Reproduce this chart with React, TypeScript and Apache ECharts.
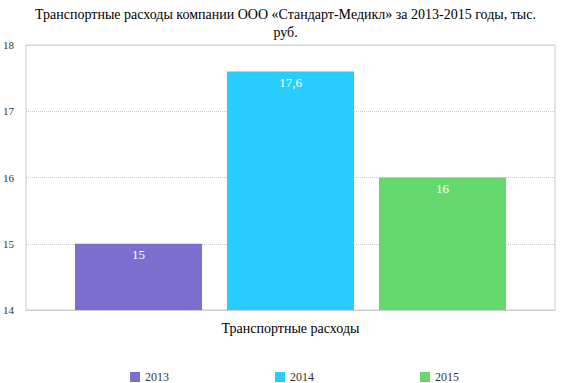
import React, { useEffect, useRef } from "react";
import * as echarts from "echarts";

const categories = ["Транспортные расходы"];
const seriesNames = ["2013", "2014", "2015"];
const seriesValues = [15, 17.6, 16];
const colors = ["#7a6fcf", "#27cdfe", "#66d96e"];
const titleText = "Транспортные расходы компании ООО «Стандарт-Медикл» за 2013-2015 годы, тыс.\nруб.";

const FONT = "Times New Roman, Liberation Serif, serif";

export default function App() {
  const ref = useRef<HTMLDivElement>(null);
  useEffect(() => {
    const chart = echarts.init(ref.current!, undefined, { renderer: "svg" });
    chart.setOption({
      animation: false,
      textStyle: { fontFamily: FONT },
      title: {
        text: titleText,
        left: "center",
        top: 0,
        textStyle: { fontFamily: FONT, fontSize: 14, fontWeight: "normal", color: "#000", lineHeight: 18 },
      },
      legend: {
        top: 366,
        left: 125,
        itemWidth: 10,
        itemHeight: 10,
        itemGap: 106,
        icon: "rect",
        textStyle: { fontFamily: FONT, fontSize: 12, color: "#333" },
        data: seriesNames,
      },
      grid: { left: 22, right: 16, top: 45, bottom: 73, show: true, borderColor: "#ccc", borderWidth: 1 },
      xAxis: {
        type: "category",
        data: categories,
        axisLine: { show: true, lineStyle: { color: "#ccc" } },
        axisTick: { show: false },
        axisLabel: { fontFamily: FONT, fontSize: 14, color: "#000", margin: 11 },
      },
      yAxis: {
        type: "value",
        min: 14,
        max: 18,
        interval: 1,
        axisLine: { show: false },
        axisTick: { show: false },
        axisLabel: { fontFamily: FONT, fontSize: 11, color: "#333", margin: 12 },
        splitLine: { show: true, lineStyle: { type: "dotted", color: "#ccc" } },
      },
      series: seriesNames.map((name, i) => ({
        name,
        type: "bar",
        data: [seriesValues[i]],
        barWidth: 127,
        barGap: "19.7%",
        itemStyle: { color: colors[i] },
        label: {
          show: true,
          position: "insideTop",
          distance: 4,
          color: "#fff",
          fontFamily: FONT,
          fontSize: 13,
          formatter: (p: any) => String(p.value).replace(".", ","),
        },
      })),
    });
    return () => chart.dispose();
  }, []);
  return <div ref={ref} style={{ width: 571, height: 383, position: "absolute", left: 0, top: 0 }} />;
}
